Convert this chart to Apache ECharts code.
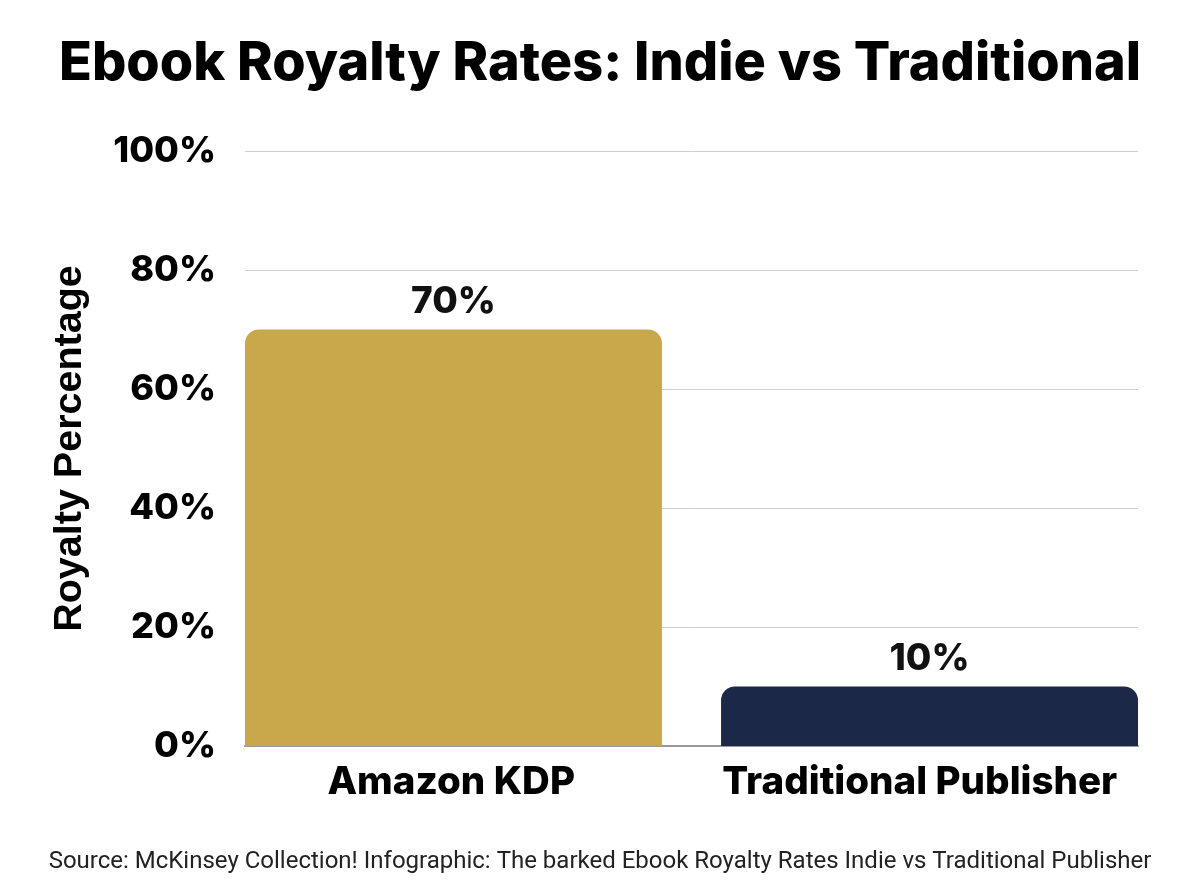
<!DOCTYPE html>
<html>
<head>
<meta charset="utf-8">
<script src="https://cdn.jsdelivr.net/npm/echarts@6/dist/echarts.min.js"></script>
<style>html,body{margin:0;padding:0;background:#fff}#c{width:1200px;height:896px}</style>
</head>
<body>
<div id="c"></div>
<script>
const categories = ['Amazon KDP', 'Traditional Publisher'];
const royalties = [70, 10];
const barColors = ['#C9A84B', '#1B2847'];
const yTicks = [0, 20, 40, 60, 80, 100];
const titleText = 'Ebook Royalty Rates: Indie vs Traditional';
const yAxisName = 'Royalty Percentage';
const sourceText = 'Source: McKinsey Collection! Infographic: The barked Ebook Royalty Rates Indie vs Traditional Publisher';

const chart = echarts.init(document.getElementById('c'));
const series = categories.map((c, i) => ({
  type: 'bar',
  name: c,
  data: royalties.map((v, j) => (j === i ? v : '-')),
  barWidth: 417,
  barGap: '-92.9%',
  itemStyle: { color: barColors[i], borderRadius: [14, 14, 0, 0] },
  label: {
    show: true, position: 'top', distance: 9,
    formatter: p => p.value + '%',
    fontFamily: 'Inter', fontWeight: 800, fontSize: 37, color: '#111'
  }
}));
chart.setOption({
  animation: false,
  backgroundColor: '#fff',
  title: [{
    text: titleText, left: 'center', top: 32,
    textStyle: { fontFamily: 'Inter', fontWeight: 800, fontSize: 54, color: '#000' }
  }, {
    text: sourceText, left: 'center', top: 845,
    textStyle: { fontFamily: 'Roboto', fontWeight: 400, fontSize: 24, color: '#222' }
  }],
  grid: { left: 245, right: 62, top: 151, bottom: 150 },
  xAxis: {
    type: 'category', data: categories,
    axisLine: { lineStyle: { color: '#999', width: 2 } },
    axisTick: { show: false },
    axisLabel: {
      margin: 17,
      formatter: (v, i) => '{l' + i + '|' + v + '}',
      rich: {
        l0: { fontFamily: 'Inter', fontWeight: 800, fontSize: 38.5, color: '#000', padding: [0, 34, 0, 0] },
        l1: { fontFamily: 'Inter', fontWeight: 800, fontSize: 38.5, color: '#000', padding: [0, 0, 0, 10] }
      }
    }
  },
  yAxis: {
    type: 'value', min: yTicks[0], max: yTicks[yTicks.length - 1], interval: 20,
    name: yAxisName, nameLocation: 'middle', nameGap: 155, nameRotate: 90,
    nameTextStyle: { fontFamily: 'Liberation Sans', fontWeight: 700, fontSize: 39.5, color: '#000' },
    axisLine: { show: false }, axisTick: { show: false },
    axisLabel: { margin: 29, formatter: '{value}%', fontFamily: 'Inter', fontWeight: 800, fontSize: 36, color: '#000' },
    splitLine: { lineStyle: { color: '#cfcfcf', width: 1 } }
  },
  series: series
});
</script>
</body>
</html>
